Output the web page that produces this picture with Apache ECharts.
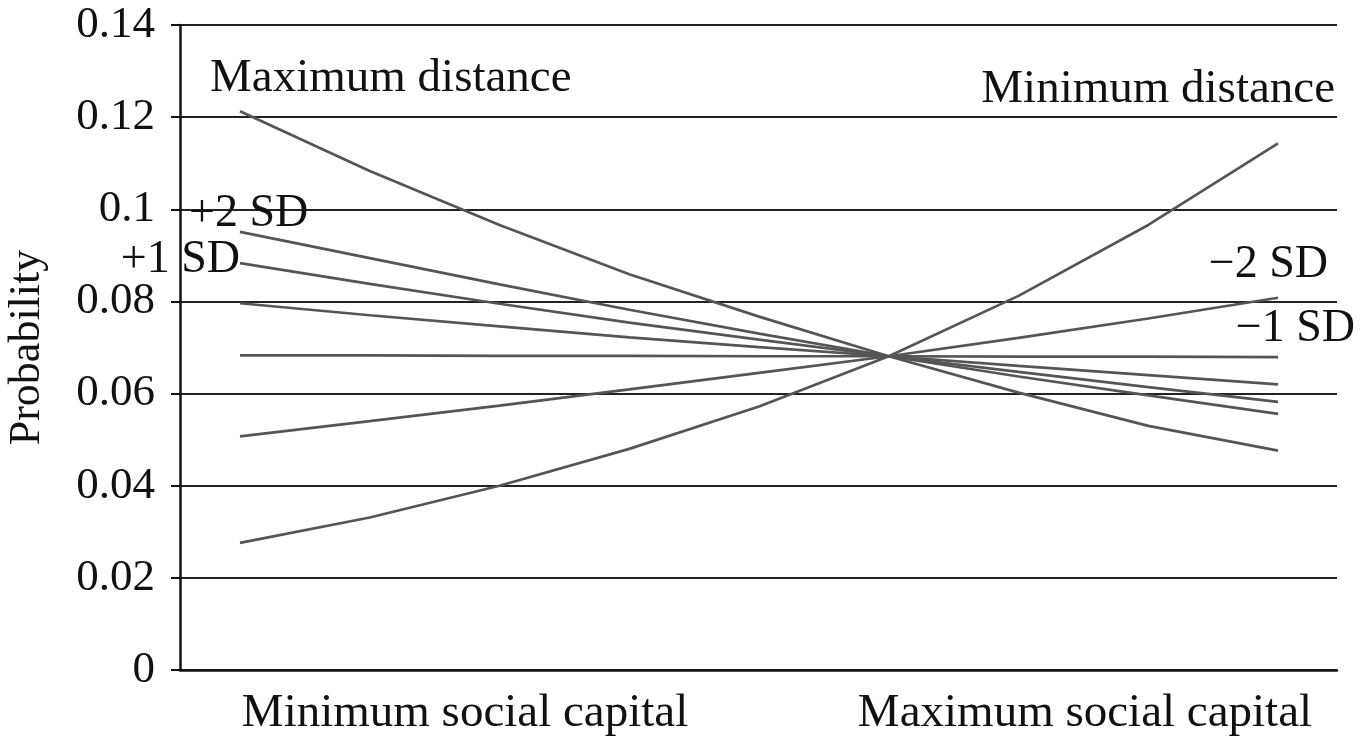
<!DOCTYPE html>
<html>
<head>
<meta charset="utf-8">
<script src="https://cdn.jsdelivr.net/npm/echarts@6/dist/echarts.min.js"></script>
<style>html,body{margin:0;padding:0;background:#fff;}#c{width:1372px;height:741px;}</style>
</head>
<body>
<div id="c"></div>
<script>
// Social capital positions (0 = minimum, 1 = maximum)
const xPoints = [0, 0.125, 0.25, 0.375, 0.5, 0.625, 0.75, 0.875, 1];
// Predicted probabilities by distance level
const maxDistance = [0.1213, 0.1083, 0.0966, 0.0859, 0.0767, 0.0681, 0.0602, 0.0530, 0.0476];
const plus2SD     = [0.0951, 0.0894, 0.0837, 0.0782, 0.0730, 0.0681, 0.0637, 0.0596, 0.0556];
const plus1SD     = [0.0883, 0.0838, 0.0795, 0.0754, 0.0717, 0.0681, 0.0647, 0.0614, 0.0582];
const meanDist    = [0.0796, 0.0770, 0.0746, 0.0722, 0.0701, 0.0681, 0.0660, 0.0640, 0.0620];
const minus1SD    = [0.0683, 0.0683, 0.0682, 0.0682, 0.0681, 0.0681, 0.0680, 0.0680, 0.0679];
const minus2SD    = [0.0507, 0.0540, 0.0574, 0.0609, 0.0645, 0.0681, 0.0721, 0.0763, 0.0808];
const minDistance = [0.0276, 0.0331, 0.0400, 0.0480, 0.0572, 0.0681, 0.0812, 0.0966, 0.1143];

const xTickLabels = ['Minimum social capital', 'Maximum social capital'];
const xTickValues = [0.2168, 0.814];

const FONT = 'Liberation Serif';
const LINE_COLOR = '#555555';
const last = xPoints.length - 1;

// annotation: [text, point index, align, offset]
function makeSeries(name, vals, ann) {
  const s = {
    name: name, type: 'line',
    data: vals.map((v, i) => [xPoints[i], v]),
    symbol: 'none',
    lineStyle: { color: LINE_COLOR, width: 2.7 },
    emphasis: { disabled: true }, silent: true
  };
  if (ann) {
    const idx = ann[1];
    s.markPoint = {
      silent: true, animation: false,
      symbol: 'circle', symbolSize: 1,
      itemStyle: { color: 'rgba(0,0,0,0)' },
      data: [{
        coord: [xPoints[idx], vals[idx]],
        label: {
          show: true, formatter: ann[0], position: 'inside',
          align: ann[2], verticalAlign: 'middle', offset: ann[3],
          fontFamily: FONT, fontSize: ann[4] || 47, color: '#111'
        }
      }]
    };
  }
  return s;
}

const series = [
  makeSeries('Maximum distance', maxDistance, ['Maximum distance', 0, 'left', [-30, -32]]),
  makeSeries('+2 SD', plus2SD, ['+2 SD', 0, 'left', [-51, -18], 46]),
  makeSeries('+1 SD', plus1SD, ['+1 SD', 0, 'right', [0, -3], 46]),
  makeSeries('Mean', meanDist, null),
  makeSeries('−1 SD', minus1SD, ['−1 SD', last, 'right', [77, -28], 46]),
  makeSeries('−2 SD', minus2SD, ['−2 SD', last, 'right', [50, -33], 46]),
  makeSeries('Minimum distance', minDistance, ['Minimum distance', last, 'right', [57, -54]])
];

const chart = echarts.init(document.getElementById('c'), null, { renderer: 'canvas' });
chart.setOption({
  animation: false,
  backgroundColor: '#ffffff',
  grid: { left: 180, right: 35, top: 25, bottom: 71, containLabel: false, outerBoundsMode: 'none' },
  xAxis: {
    type: 'value', min: -0.0578, max: 1.0568,
    splitLine: { show: false },
    axisTick: { show: false },
    axisLine: { show: true, onZero: false, lineStyle: { color: '#111', width: 2.5 } },
    axisLabel: {
      customValues: xTickValues,
      formatter: v => (v < 0.5 ? xTickLabels[0] : xTickLabels[1]),
      fontFamily: FONT, fontSize: 47, color: '#111', margin: 20
    }
  },
  yAxis: {
    type: 'value', min: 0, max: 0.14, interval: 0.02,
    name: 'Probability', nameLocation: 'middle', nameGap: 131, nameRotate: 90,
    nameTextStyle: { fontFamily: FONT, fontSize: 44, color: '#111' },
    axisLine: { show: true, onZero: false, lineStyle: { color: '#111', width: 2.5 } },
    axisTick: { show: true, inside: false, length: 9, lineStyle: { color: '#111', width: 2 } },
    splitLine: { show: true, lineStyle: { color: '#222', width: 1.8 } },
    axisLabel: {
      formatter: v => {
        const r = Math.round(v * 100) / 100;
        return r === 0 ? '0' : String(r);
      },
      fontFamily: FONT, fontSize: 45, color: '#111', margin: 25
    }
  },
  series: series
});
</script>
</body>
</html>
